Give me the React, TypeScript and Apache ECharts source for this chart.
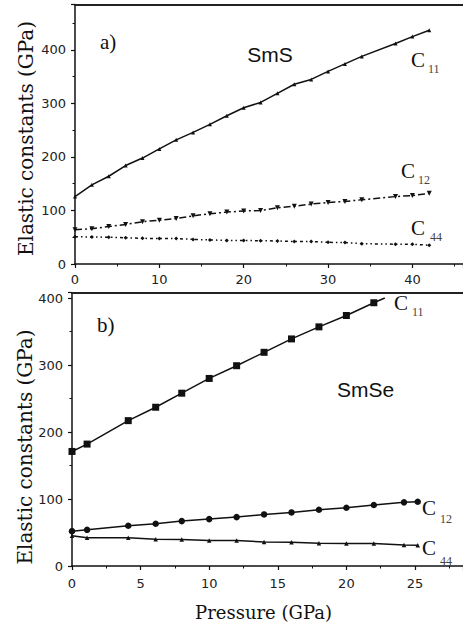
import React, { useEffect, useRef } from "react";
import * as echarts from "echarts";

// Panel a) SmS
const smsPressure = [0, 2, 4, 6, 8, 10, 12, 14, 16, 18, 20, 22, 24, 26, 28, 30, 32, 34, 38, 40, 42];
const smsC11 = [126, 148, 164, 184, 198, 215, 232, 246, 261, 277, 292, 302, 319, 336, 345, 360, 374, 388, 412, 425, 437];
const smsC12 = [64, 66, 70, 74, 79, 82, 85, 90, 94, 97, 99, 100, 105, 108, 112, 115, 117, 120, 126, 128, 132];
const smsC44 = [51, 50.5, 50, 49, 48, 47.5, 47.5, 46, 45, 44, 44, 43.5, 43, 42, 42, 40.5, 40, 38, 37, 37, 35];

// Panel b) SmSe
const smsePressure = [0, 1.1, 4.1, 6.1, 8, 10, 12, 14, 16, 18, 20, 22, 24.2, 25.2];
const smseC11 = [171, 182, 217, 237, 258, 280, 299, 319, 339, 357, 374, 393];
const smseC11LineEnd = [22.8, 400];
const smseC12 = [52, 54, 60, 63, 67, 70, 73, 77, 80, 84, 87, 91, 95, 96];
const smseC44 = [45, 42, 42, 40, 39.5, 38, 38, 36, 35.5, 34, 33.5, 33.5, 31.5, 31];

const labelsA = { panel: "a)", compound: "SmS" };
const labelsB = { panel: "b)", compound: "SmSe" };
const yTitle = "Elastic constants (GPa)";
const xTitle = "Pressure (GPa)";

const zip = (xs: number[], ys: number[]) => ys.map((y, i) => [xs[i], y]);

const INK = "#111";
const SERIF = "Liberation Serif";
const TITLE_SERIF = "DejaVu Serif";
const SANS = "DejaVu Sans";

function bottomAxis(grid: number, max: number, interval: number, margin: number) {
  return {
    type: "value",
    gridIndex: grid,
    min: 0,
    max,
    interval,
    position: "bottom",
    axisLine: { show: true, onZero: false, lineStyle: { color: INK, width: 1.5 } },
    axisTick: { show: true, inside: false, length: 4, lineStyle: { color: INK, width: 1.2 } },
    minorTick: { show: true, splitNumber: 2, length: 2.5, lineStyle: { color: INK, width: 1 } },
    axisLabel: {
      show: true,
      margin,
      color: "#222",
      fontFamily: SANS,
      fontSize: 13,
      showMaxLabel: false,
    },
    splitLine: { show: false },
  };
}

function topBorder(grid: number, max: number) {
  return {
    type: "value",
    gridIndex: grid,
    min: 0,
    max,
    position: "top",
    axisLine: { show: true, onZero: false, lineStyle: { color: "#222", width: 2 } },
    axisTick: { show: false },
    axisLabel: { show: false },
    splitLine: { show: false },
  };
}

function leftAxis(grid: number, max: number) {
  return {
    type: "value",
    gridIndex: grid,
    min: 0,
    max,
    interval: 100,
    axisLine: { show: true, onZero: false, lineStyle: { color: INK, width: 1.5 } },
    axisTick: { show: true, inside: false, length: 4, lineStyle: { color: INK, width: 1.2 } },
    minorTick: { show: true, splitNumber: 2, length: 2.5, lineStyle: { color: INK, width: 1 } },
    axisLabel: {
      show: true,
      margin: 9,
      color: "#222",
      fontFamily: SANS,
      fontSize: 13,
      showMaxLabel: false,
    },
    splitLine: { show: false },
  };
}

function lineSeries(
  xi: number,
  yi: number,
  data: any[],
  symbol: string,
  size: number,
  dash: any
) {
  return {
    type: "line",
    xAxisIndex: xi,
    yAxisIndex: yi,
    data,
    symbol,
    symbolSize: size,
    showSymbol: true,
    itemStyle: { color: INK },
    lineStyle: { color: INK, width: 1.5, type: dash },
    clip: true,
  };
}

function txt(text: string, x: number, y: number, font: string, size: number, color = INK, align = "left") {
  return {
    type: "text",
    x,
    y,
    style: {
      text,
      fill: color,
      font: `${size}px "${font}"`,
      align,
      verticalAlign: "middle",
    },
  };
}

export default function App() {
  const ref = useRef<HTMLDivElement>(null);

  useEffect(() => {
    if (!ref.current) return;
    const chart = echarts.init(ref.current, null, { renderer: "svg" });

    const c11b = zip(smsePressure, smseC11) as any[];
    c11b.push({ value: smseC11LineEnd, symbol: "none" });

    chart.setOption({
      animation: false,
      backgroundColor: "#fff",
      grid: [
        { left: 75, top: 4.5, width: 391, height: 259.5 },
        { left: 72, top: 292.7, width: 396, height: 273.3 },
      ],
      xAxis: [
        bottomAxis(0, 46, 10, 9),
        bottomAxis(1, 28.5, 5, 11),
        topBorder(0, 46),
        topBorder(1, 28.5),
      ],
      yAxis: [leftAxis(0, 485), leftAxis(1, 408)],
      series: [
        lineSeries(0, 0, zip(smsPressure, smsC11), "triangle", 4, "solid"),
        lineSeries(0, 0, zip(smsPressure, smsC12), "path://M0,0 L10,0 L5,10 Z", 5, [7, 3, 2, 3]),
        lineSeries(0, 0, zip(smsPressure, smsC44), "diamond", 4, [3, 3, 1.5, 3, 1.5, 3]),
        lineSeries(1, 1, c11b, "rect", 7, "solid"),
        lineSeries(1, 1, zip(smsePressure, smseC12), "circle", 6.5, "solid"),
        lineSeries(1, 1, zip(smsePressure, smseC44), "triangle", 4.5, "solid"),
      ],
      graphic: [
        {
          type: "text",
          x: 26,
          y: 138.5,
          rotation: Math.PI / 2,
          style: {
            text: yTitle,
            fill: INK,
            font: `20px "${TITLE_SERIF}"`,
            align: "center",
            verticalAlign: "middle",
          },
        },
        {
          type: "text",
          x: 25,
          y: 447,
          rotation: Math.PI / 2,
          style: {
            text: yTitle,
            fill: INK,
            font: `20px "${TITLE_SERIF}"`,
            align: "center",
            verticalAlign: "middle",
          },
        },
        txt(xTitle, 263.5, 612, TITLE_SERIF, 18, INK, "center"),
        txt(labelsA.panel, 100, 42, SERIF, 21),
        txt(labelsB.panel, 97, 325, SERIF, 21),
        txt(labelsA.compound, 270, 54, "Liberation Sans", 21, INK, "center"),
        txt(labelsB.compound, 365.5, 389, "Liberation Sans", 21, INK, "center"),
        // C labels panel a
        txt("C", 411, 60, SERIF, 21),
        txt("11", 428, 69, SERIF, 12, "#444"),
        txt("C", 401, 171, SERIF, 21),
        txt("12", 418, 180, SERIF, 12, "#444"),
        txt("C", 411, 228, SERIF, 21),
        txt("44", 430, 237, SERIF, 12, "#444"),
        // C labels panel b
        txt("C", 394, 302.7, SERIF, 21),
        txt("11", 412, 312, SERIF, 12, "#444"),
        txt("C", 422, 507.7, SERIF, 21),
        txt("12", 440, 519, SERIF, 12, "#444"),
        txt("C", 422, 548, SERIF, 21),
        txt("44", 440, 560.7, SERIF, 12, "#444"),
      ],
    });

    return () => chart.dispose();
  }, []);

  return (
    <div
      ref={ref}
      style={{ position: "fixed", left: 0, top: 0, width: 463, height: 628, background: "#fff" }}
    />
  );
}
